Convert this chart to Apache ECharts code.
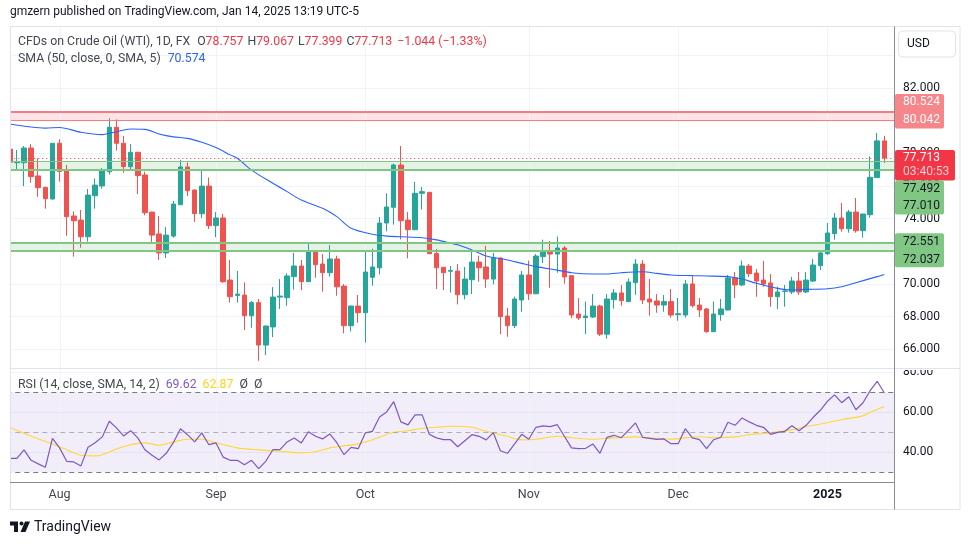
<!DOCTYPE html>
<html><head><meta charset="utf-8">
<script src="https://cdn.jsdelivr.net/npm/echarts@6/dist/echarts.min.js"></script>
<style>html,body{margin:0;padding:0;background:#fff}#c{width:970px;height:545px}</style>
</head><body><div id="c"></div>
<script>
// ---------- data ----------
const categories = [
'2024-07-23','2024-07-24','2024-07-25','2024-07-26','2024-07-29','2024-07-30','2024-07-31',
'2024-08-01','2024-08-02','2024-08-05','2024-08-06','2024-08-07','2024-08-08','2024-08-09','2024-08-12','2024-08-13','2024-08-14','2024-08-15','2024-08-16','2024-08-19','2024-08-20','2024-08-21','2024-08-22','2024-08-23','2024-08-26','2024-08-27','2024-08-28','2024-08-29','2024-08-30',
'2024-09-02','2024-09-03','2024-09-04','2024-09-05','2024-09-06','2024-09-09','2024-09-10','2024-09-11','2024-09-12','2024-09-13','2024-09-16','2024-09-17','2024-09-18','2024-09-19','2024-09-20','2024-09-23','2024-09-24','2024-09-25','2024-09-26','2024-09-27','2024-09-30',
'2024-10-01','2024-10-02','2024-10-03','2024-10-04','2024-10-07','2024-10-08','2024-10-09','2024-10-10','2024-10-11','2024-10-14','2024-10-15','2024-10-16','2024-10-17','2024-10-18','2024-10-21','2024-10-22','2024-10-23','2024-10-24','2024-10-25','2024-10-28','2024-10-29','2024-10-30','2024-10-31',
'2024-11-01','2024-11-04','2024-11-05','2024-11-06','2024-11-07','2024-11-08','2024-11-11','2024-11-12','2024-11-13','2024-11-14','2024-11-15','2024-11-18','2024-11-19','2024-11-20','2024-11-21','2024-11-22','2024-11-25','2024-11-26','2024-11-27','2024-11-28','2024-11-29',
'2024-12-02','2024-12-03','2024-12-04','2024-12-05','2024-12-06','2024-12-09','2024-12-10','2024-12-11','2024-12-12','2024-12-13','2024-12-16','2024-12-17','2024-12-18','2024-12-19','2024-12-20','2024-12-23','2024-12-24','2024-12-26','2024-12-27','2024-12-30','2024-12-31',
'2025-01-02','2025-01-03','2025-01-06','2025-01-07','2025-01-08','2025-01-09','2025-01-10','2025-01-13','2025-01-14'
];
const openP = [78.25,77.42,77.42,78.32,76.61,75.91,75.2,78.61,76.93,74.16,
73.91,72.89,75.4,76.0,76.87,79.59,78.61,77.18,78.06,76.67,
74.4,73.06,71.9,72.93,74.85,77.16,75.75,74.3,75.99,73.57,
74.04,70.24,69.3,69.32,68.06,68.86,66.26,67.37,69.2,69.16,
70.45,71.1,70.14,72.02,71.22,70.69,71.53,69.87,67.45,68.65,
68.24,70.41,70.99,73.73,74.69,77.28,73.91,73.32,75.55,75.61,
71.87,71.02,70.78,70.79,69.34,70.26,71.34,71.04,70.3,71.59,
68.04,67.45,69.02,70.55,69.4,71.67,72.02,71.83,72.2,70.51,
68.16,67.94,67.98,68.65,66.93,69.04,69.45,68.92,70.08,71.22,
69.08,68.96,68.71,68.92,68.12,68.1,70.0,68.71,68.47,67.08,
68.12,68.41,70.37,69.94,71.1,70.67,70.24,70.06,69.22,69.55,
69.51,70.18,69.51,70.18,71.12,71.85,73.08,74.04,73.38,74.4,
73.26,74.24,76.51,78.757];
const highP = [78.3,78.2,78.44,78.56,77.69,75.95,78.63,78.85,77.28,74.44,
74.53,75.81,76.46,77.1,80.14,80.07,79.06,78.56,78.08,76.87,
74.42,74.16,73.49,75.08,77.59,77.44,75.77,76.93,76.52,74.4,
74.28,71.47,70.79,70.1,68.96,69.08,67.45,69.81,70.3,70.65,
71.9,71.47,72.51,72.04,71.83,72.38,71.73,69.99,68.67,69.32,
71.98,72.16,74.1,75.55,77.36,78.44,74.4,76.24,75.93,75.63,
72.14,71.04,71.1,71.22,71.04,71.98,71.73,72.34,71.9,71.61,
68.53,69.22,70.79,71.43,71.83,72.71,72.63,72.9,72.32,70.53,
69.14,68.92,69.38,68.73,69.38,69.69,69.93,70.34,71.53,71.47,
70.3,69.38,69.32,69.69,69.14,70.24,70.49,69.14,68.53,68.92,
69.08,70.55,70.73,71.43,71.22,70.92,71.41,70.61,69.83,69.93,
70.43,70.73,70.73,71.53,72.02,73.73,74.34,74.95,74.53,75.26,
74.3,77.81,79.24,79.067];
const lowP = [77.35,77.0,75.99,76.2,75.34,74.61,75.18,76.26,72.95,71.67,
72.22,72.59,74.61,75.83,76.69,78.16,76.81,76.93,75.5,74.2,
72.57,71.47,71.59,72.83,74.85,75.38,73.79,74.04,73.36,72.87,
70.06,68.86,68.86,67.18,67.32,65.3,65.65,66.75,68.47,68.67,
69.65,69.63,70.12,70.38,69.53,70.45,69.28,66.98,67.1,67.63,
66.41,69.89,70.59,73.22,73.63,72.73,71.57,73.3,74.55,71.83,
69.69,69.63,69.47,68.75,69.06,69.38,70.14,69.77,69.98,66.93,
66.77,67.3,68.3,69.02,69.38,71.28,69.77,70.69,70.02,67.92,
67.8,66.93,67.92,66.81,66.65,68.49,68.67,68.9,69.34,68.77,
68.06,68.24,68.3,67.94,67.75,67.94,68.55,67.98,67.02,67.06,
67.75,68.39,69.14,69.87,70.43,69.22,69.83,68.61,68.47,68.61,
69.38,69.34,69.45,70.12,70.85,71.77,72.71,73.2,73.14,73.14,
72.83,74.06,76.51,77.399];
const closeP = [77.45,77.5,78.32,76.57,75.89,75.22,78.61,76.89,74.12,73.87,
72.89,75.44,76.05,76.93,79.59,78.61,77.18,78.06,76.63,74.36,
72.99,71.9,72.99,74.89,77.16,75.71,74.3,75.99,73.57,74.04,
70.14,69.22,69.38,68.06,68.86,66.26,67.43,69.2,69.26,70.49,
71.1,70.14,72.02,71.18,70.69,71.53,69.83,67.45,68.65,68.24,
70.73,71.04,73.73,74.71,77.28,73.87,73.32,75.55,75.65,71.85,
70.99,70.69,70.82,69.34,70.3,71.34,70.99,70.3,71.59,68.0,
67.45,69.08,70.55,69.4,71.71,72.02,71.83,72.2,70.43,68.1,
67.92,68.04,68.65,66.93,69.08,69.45,68.98,70.12,71.22,69.02,
68.9,68.71,68.92,68.1,68.18,70.0,68.67,68.41,67.08,68.16,
68.47,70.37,69.94,71.1,70.63,70.18,70.0,69.22,69.51,69.57,
70.18,69.51,70.24,71.16,71.9,73.12,74.04,73.38,74.4,73.26,
74.28,76.53,78.757,77.713];

const smaIdx = [0,5,7,10,13,15,17,19,21,23,25,27,29,31,32,34,37,39,41,44,46,48,51,53,55,58,60,62,63,65,67,70,72,74,77,79,82,84,86,89,91,93,96,98,101,103,105,108,110,112,115,117,119,122,123];
const smaVal = [79.79,79.54,79.58,79.28,79.14,79.32,79.48,79.46,79.18,79.0,78.91,78.67,78.35,77.9,77.69,76.97,76.16,75.65,75.14,74.63,74.12,73.41,73.04,72.93,72.89,72.83,72.7,72.5,72.4,72.08,71.71,71.47,71.26,71.06,70.85,70.69,70.61,70.61,70.69,70.75,70.65,70.55,70.51,70.49,70.45,70.3,70.04,69.73,69.63,69.67,69.71,69.83,70.08,70.45,70.574];

// RSI(14) per bar
const rsiVal = [37.0,37.0,41.2,36.0,34.2,32.5,47.0,42.2,35.5,35.2,
33.2,42.5,44.8,47.7,55.5,52.2,48.2,50.8,47.2,41.3,
38.5,36.2,39.5,44.8,51.8,48.8,45.2,49.7,43.8,44.7,
37.6,36.0,36.0,33.8,36.0,31.8,35.5,41.3,41.3,45.2,
47.2,44.7,50.3,48.0,46.7,49.2,44.8,38.8,42.5,41.8,
49.7,50.5,57.7,60.2,65.3,55.2,53.7,58.7,58.7,49.0,
47.2,46.3,46.3,42.8,45.8,48.8,48.0,46.2,49.8,40.8,
39.5,44.2,49.0,46.5,52.5,53.2,52.8,53.8,48.0,42.2,
41.8,42.0,44.2,39.5,47.5,48.5,47.3,51.0,54.7,47.5,
47.0,46.5,46.7,44.3,44.3,51.8,47.2,46.3,41.8,46.3,
47.5,55.0,53.5,57.2,55.2,53.5,52.5,49.0,50.0,50.5,
53.3,50.8,53.5,57.5,61.0,65.5,68.7,64.8,67.8,61.3,
64.8,70.8,75.5,69.62];

const rsiSmaIdx = [0,3,6,8,10,12,13,15,17,19,21,23,25,27,29,32,35,38,41,43,45,47,49,51,54,56,58,60,62,65,67,70,72,74,77,79,82,85,88,90,93,97,99,102,104,107,110,112,115,117,120,121,123];
const rsiSmaVal = [52.5,48.0,44.2,41.3,38.5,38.2,38.8,41.7,43.8,44.7,43.5,45.2,46.5,46.5,44.7,42.2,41.2,40.5,39.8,40.3,42.2,43.2,44.2,46.3,50.0,50.8,52.0,52.5,53.0,52.5,50.5,48.0,46.2,46.5,48.0,47.3,46.5,47.2,47.7,47.2,46.6,47.8,47.3,47.7,48.8,49.8,51.2,52.8,54.8,56.3,58.2,60.0,62.87];

const tickDates = ['2024-08-01','2024-09-02','2024-10-01','2024-11-01','2024-12-02','2025-01-02'];
const tickLabels = ['Aug','Sep','Oct','Nov','Dec','2025'];

const redZone = [80.042, 80.524];
const greenZoneHigh = [77.010, 77.492];
const greenZoneLow = [72.037, 72.551];
const lastPrice = 77.713;
const rsiLevels = [70, 50, 30];

// ---------- chart ----------
const FONT = 'Roboto, "Liberation Sans", sans-serif';
const cats = categories.concat(['']);
const candleData = categories.map((d, i) => [openP[i], closeP[i], lowP[i], highP[i]]);
const smaData = smaIdx.map((k, j) => [k, smaVal[j]]);
const rsiSmaData = rsiSmaIdx.map((k, j) => [k, rsiSmaVal[j]]);

const GL = 6.25, GW = 125 * 7.11;
const chart = echarts.init(document.getElementById('c'));
const option = {
  animation: false,
  backgroundColor: '#ffffff',
  textStyle: { fontFamily: FONT },
  grid: [
    { left: GL, width: GW, top: 22.52, height: 359.5 },
    { left: GL, width: GW, top: 332.3, height: 160 }
  ],
  xAxis: [
    { type: 'category', gridIndex: 0, data: cats, boundaryGap: true,
      axisLine: { show: false }, axisTick: { show: false }, axisLabel: { show: false }, splitLine: { show: false } },
    { type: 'category', gridIndex: 1, data: cats, boundaryGap: true, offset: -10,
      axisLine: { show: false }, axisTick: { show: false }, splitLine: { show: false },
      axisLabel: {
        show: true, margin: 6, fontSize: 12.5, color: '#434651', fontFamily: FONT,
        interval: (idx, val) => tickDates.indexOf(val) >= 0,
        formatter: (val) => { const k = tickDates.indexOf(val); if (k < 0) return ''; return tickLabels[k] === '2025' ? '{b|2025}' : tickLabels[k]; },
        rich: { b: { fontWeight: 'bold', color: '#131722', fontSize: 12.5, fontFamily: FONT } }
      } }
  ],
  yAxis: [
    { type: 'value', gridIndex: 0, position: 'right', min: 64, max: 86, interval: 2,
      axisLine: { show: false }, axisTick: { show: false },
      axisLabel: { margin: 8, fontSize: 12, color: '#131722', fontFamily: FONT,
        formatter: v => (v === 64 || v === 86 || v === 84) ? '' : v.toFixed(3) },
      splitLine: { show: true, showMinLine: false, showMaxLine: false, lineStyle: { color: '#f0f3fa', width: 1 } } },
    { type: 'value', gridIndex: 1, position: 'right', min: 20, max: 100, interval: 20,
      axisLine: { show: false }, axisTick: { show: false },
      axisLabel: { margin: 8, fontSize: 12, color: '#131722', fontFamily: FONT,
        formatter: v => (v === 20 || v === 100) ? '' : v.toFixed(2) },
      splitLine: { show: true, showMinLine: false, showMaxLine: false, lineStyle: { color: '#f0f3fa', width: 1 } } }
  ],
  series: [
    { type: 'candlestick', xAxisIndex: 0, yAxisIndex: 0, data: candleData, barWidth: 5,
      itemStyle: { color: '#26a69a', color0: '#ef5350', borderColor: '#26a69a', borderColor0: '#ef5350', borderWidth: 1 },
      markArea: { silent: true, data: [
        [{ yAxis: redZone[0], itemStyle: { color: 'rgba(242,54,69,0.14)' } }, { yAxis: redZone[1] }],
        [{ yAxis: greenZoneHigh[0], itemStyle: { color: 'rgba(76,175,80,0.15)' } }, { yAxis: greenZoneHigh[1] }],
        [{ yAxis: greenZoneLow[0], itemStyle: { color: 'rgba(76,175,80,0.15)' } }, { yAxis: greenZoneLow[1] }]
      ] },
      markLine: { silent: true, symbol: 'none', label: { show: false }, data: [
        { yAxis: redZone[1], lineStyle: { color: '#f77c80', width: 2, type: 'solid' } },
        { yAxis: redZone[0], lineStyle: { color: '#f77c80', width: 1.2, type: 'solid' } },
        { yAxis: greenZoneHigh[1], lineStyle: { color: '#81c784', width: 1.2, type: 'solid' } },
        { yAxis: greenZoneHigh[0], lineStyle: { color: '#81c784', width: 2, type: 'solid' } },
        { yAxis: greenZoneLow[1], lineStyle: { color: '#81c784', width: 2, type: 'solid' } },
        { yAxis: greenZoneLow[0], lineStyle: { color: '#81c784', width: 2, type: 'solid' } },
        { yAxis: lastPrice, lineStyle: { color: '#f23645', width: 1, type: [1, 3] } }
      ] } },
    { type: 'line', xAxisIndex: 0, yAxisIndex: 0, data: smaData, showSymbol: false, smooth: 0.3,
      lineStyle: { color: '#2962ff', width: 1.1 }, z: 3 },
    { type: 'line', xAxisIndex: 1, yAxisIndex: 1, data: rsiVal, showSymbol: false,
      lineStyle: { color: '#7e57c2', width: 1.2 }, z: 4,
      markArea: { silent: true, data: [[{ yAxis: 30, itemStyle: { color: 'rgba(126,87,194,0.1)' } }, { yAxis: 70 }]] },
      markLine: { silent: true, symbol: 'none', label: { show: false }, data: [
        { yAxis: rsiLevels[0], lineStyle: { color: '#787b86', width: 1, type: [5, 4] } },
        { yAxis: rsiLevels[1], lineStyle: { color: 'rgba(120,123,134,0.55)', width: 1, type: [5, 4] } },
        { yAxis: rsiLevels[2], lineStyle: { color: '#787b86', width: 1, type: [5, 4] } }
      ] } },
    { type: 'line', xAxisIndex: 1, yAxisIndex: 1, data: rsiSmaData, showSymbol: false, smooth: 0.3,
      lineStyle: { color: '#fdd835', width: 1.1 }, z: 3 }
  ]
};
chart.setOption(option);

// ---------- overlays positioned through the library's scales ----------
const py = v => chart.convertToPixel({ yAxisIndex: 0 }, v);
const px = c => chart.convertToPixel({ xAxisIndex: 0 }, c);
const G = [];
const PANE_L = 10, PANE_R = 894.5, TOP = 26.5, SEP = 368.5, TAXIS = 482.5, BOT = 509.5, RIGHT = 960;

// month grid lines
tickDates.forEach(d => {
  const x = Math.round(px(d)) + 0.5;
  G.push({ type: 'line', z: 1, silent: true, shape: { x1: x, y1: TOP, x2: x, y2: TAXIS }, style: { stroke: '#f0f3fa', lineWidth: 1 } });
});
// covers
G.push({ type: 'rect', z: 50, silent: true, shape: { x: 0, y: 0, width: PANE_L, height: 545 }, style: { fill: '#fff' } });
G.push({ type: 'rect', z: 50, silent: true, shape: { x: PANE_R + 1, y: 357.5, width: 64, height: 12.5 }, style: { fill: '#fff' } });
// frame & separators
G.push({ type: 'rect', z: 60, silent: true, shape: { x: PANE_L + 0.5, y: TOP, width: RIGHT - PANE_L - 0.5, height: BOT - TOP }, style: { fill: 'none', stroke: '#e0e3eb', lineWidth: 1 } });
G.push({ type: 'line', z: 60, silent: true, shape: { x1: PANE_L, y1: SEP, x2: RIGHT, y2: SEP }, style: { stroke: '#e0e3eb', lineWidth: 1 } });
G.push({ type: 'line', z: 61, silent: true, shape: { x1: PANE_L, y1: TAXIS, x2: PANE_R, y2: TAXIS }, style: { stroke: '#8a8d96', lineWidth: 1 } });
G.push({ type: 'line', z: 61, silent: true, shape: { x1: PANE_R, y1: TOP, x2: PANE_R, y2: BOT }, style: { stroke: '#8a8d96', lineWidth: 1 } });

// header & legends
const LF = '12.3px ' + FONT;
G.push({ type: 'text', z: 70, x: 10, y: 12, style: { text: 'gmzern published on TradingView.com, Jan 14, 2025 13:19 UTC-5', font: '12px ' + FONT, fill: '#131722', verticalAlign: 'middle' } });
const gs = (t) => '{g|' + t + '}', rs = (t) => '{r|' + t + '}';
G.push({ type: 'text', z: 70, x: 18, y: 42, style: {
  text: gs('CFDs on Crude Oil (WTI), 1D, FX') + '{g0|O}' + rs('78.757') + '{gp|H}' + rs('79.067') + '{gp|L}' + rs('77.399') + '{gp|C}' + rs('77.713') + '{rp|\u22121.044 (\u22121.33%)}',
  verticalAlign: 'middle',
  rich: { g: { fill: '#434651', font: LF }, g0: { fill: '#434651', font: LF, padding: [0, 0, 0, 7] },
          gp: { fill: '#434651', font: LF, padding: [0, 0, 0, 4] },
          r: { fill: '#f23645', font: LF }, rp: { fill: '#f23645', font: LF, padding: [0, 0, 0, 5] } } } });
G.push({ type: 'text', z: 70, x: 18, y: 59, style: {
  text: '{g|SMA (50, close, 0, SMA, 5)}{b|70.574}', verticalAlign: 'middle',
  rich: { g: { fill: '#434651', font: LF }, b: { fill: '#2962ff', font: LF, padding: [0, 0, 0, 7] } } } });
G.push({ type: 'text', z: 70, x: 18, y: 385, style: {
  text: '{g|RSI (14, close, SMA, 14, 2)}{p|69.62}{y|62.87}{o|\u00d8}{o|\u00d8}', verticalAlign: 'middle',
  rich: { g: { fill: '#434651', font: LF }, p: { fill: '#7e57c2', font: LF, padding: [0, 0, 0, 6] },
          y: { fill: '#f7d51d', font: LF, padding: [0, 0, 0, 6] }, o: { fill: '#434651', font: LF, padding: [0, 0, 0, 6] } } } });

// USD box
G.push({ type: 'rect', z: 70, silent: true, shape: { x: 898.5, y: 31, width: 57, height: 26, r: 4 }, style: { fill: '#fff', stroke: '#e0e3eb', lineWidth: 1 } });
G.push({ type: 'text', z: 71, x: 907, y: 44, style: { text: 'USD', font: '12px ' + FONT, fill: '#131722', verticalAlign: 'middle' } });

// price tags
function tag(top, bottom, w, fill, lines) {
  G.push({ type: 'rect', z: 80, silent: true, shape: { x: 895, y: top, width: w, height: bottom - top, r: 2 }, style: { fill: fill } });
  lines.forEach(l => G.push({ type: 'text', z: 81, x: 903, y: l.y, style: { text: l.t, font: '12px ' + FONT, fill: l.c, verticalAlign: 'middle' } }));
}
const yR = py(redZone[0]);
tag(yR - 26, yR + 8.5, 49, '#f7868a', [{ t: redZone[1].toFixed(3), y: yR - 17.5, c: '#fff' }, { t: redZone[0].toFixed(3), y: yR, c: '#fff' }]);
const yC = py(lastPrice);
tag(yC - 8, yC + 22.5, 60, '#f23645', [{ t: lastPrice.toFixed(3), y: yC, c: '#fff' }, { t: '03:40:53', y: yC + 14.5, c: 'rgba(255,255,255,0.75)' }]);
const gTop = yC + 22.5;
tag(gTop, gTop + 34, 49, '#81c784', [{ t: greenZoneHigh[1].toFixed(3), y: gTop + 8.5, c: '#131722' }, { t: greenZoneHigh[0].toFixed(3), y: gTop + 26, c: '#131722' }]);
const yG = py(greenZoneLow[1]);
tag(yG - 9, yG + 25, 49, '#81c784', [{ t: greenZoneLow[1].toFixed(3), y: yG, c: '#131722' }, { t: greenZoneLow[0].toFixed(3), y: yG + 17.5, c: '#131722' }]);

// TradingView logo
G.push({ type: 'polygon', z: 70, silent: true, shape: { points: [[10, 521.5], [18, 521.5], [18, 532], [14, 532], [14, 525.5], [10, 525.5]] }, style: { fill: '#131722' } });
G.push({ type: 'circle', z: 70, silent: true, shape: { cx: 21.5, cy: 523.5, r: 2 }, style: { fill: '#131722' } });
G.push({ type: 'polygon', z: 70, silent: true, shape: { points: [[25, 521.5], [30, 521.5], [25.5, 532], [20.5, 532]] }, style: { fill: '#131722' } });
G.push({ type: 'text', z: 70, x: 34, y: 527, style: { text: 'TradingView', font: '14px ' + FONT, fill: '#131722', verticalAlign: 'middle' } });

chart.setOption({ graphic: G });
</script>
</body></html>
